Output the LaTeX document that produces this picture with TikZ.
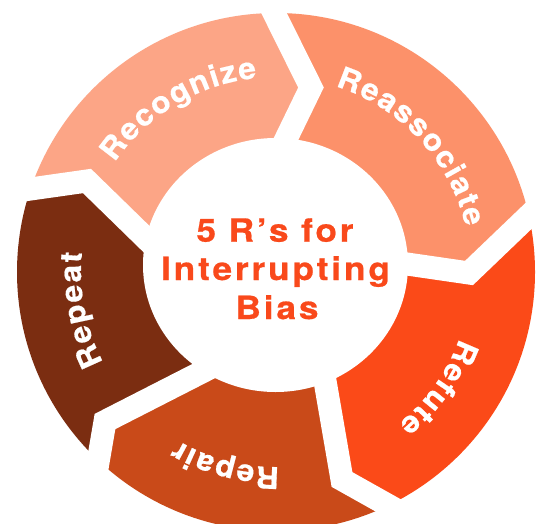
\documentclass[tikz,border=0pt]{standalone}
\usepackage{fontspec}
\setmainfont{Liberation Sans}
\newfontfamily\ctrfont{texgyreheros-bold}[Extension=.otf, LetterSpace=9, FakeStretch=1.1, FakeBold=0.6]
\newfontfamily\lbfam{texgyreheros-bold}[Extension=.otf, FakeStretch=1.06, FakeBold=0.6]
\usetikzlibrary{calc}
\definecolor{cRecog}{HTML}{FCA586}
\definecolor{cReass}{HTML}{FC916A}
\definecolor{cRefut}{HTML}{FB4A18}
\definecolor{cRepai}{HTML}{C94A19}
\definecolor{cRepea}{HTML}{7B2D11}
\definecolor{ctrtext}{HTML}{F9491B}
\newcommand{\lbfont}{\lbfam\fontsize{30}{30}\selectfont}
\def\lbsize{30}
\def\lbstretch{1.06}
\def\lbrad{195}
\def\lbtrack{1.5}
\newcommand{\arclabel}[3]{%
  \xdef\totwid{0}%
  \foreach \chr/\cw in {#3}{%
    \pgfmathsetmacro{\tmpw}{\totwid+\cw*\lbsize*\lbstretch+\lbtrack}%
    \xdef\totwid{\tmpw}%
  }%
  \pgfmathsetmacro{\startang}{#2 + ((\totwid-\lbtrack)/2)/\lbrad*180/pi}%
  \xdef\curang{\startang}%
  \foreach \chr/\cw [count=\ci] in {#3}{%
    \pgfmathsetmacro{\charang}{\curang - (\cw*\lbsize*\lbstretch/2)/\lbrad*180/pi}%
    \node[lbl, rotate=\charang-90] (#1\ci) at ($(C)+(\charang:\lbrad)$) {\chr};
    \pgfmathsetmacro{\nextang}{\curang - (\cw*\lbsize*\lbstretch+\lbtrack)/\lbrad*180/pi}%
    \xdef\curang{\nextang}%
  }%
}
\begin{document}
\begin{tikzpicture}[x=1pt,y=1pt,
  gapline/.style={draw=white, line width=23pt, line join=miter, line cap=butt},
  lbl/.style={font=\lbfont, text=white, inner sep=0pt, outer sep=0pt, anchor=base},
  ctext/.style={font=\ctrfont\fontsize{32}{32}\selectfont, text=ctrtext, inner sep=0pt, anchor=base}]
\useasboundingbox (0,0) rectangle (537,523);
\fill[white] (0,0) rectangle (537,523);
\coordinate (C) at (276,251);
\coordinate (OA) at (30.5,334);  \coordinate (TA) at (87,342);    \coordinate (IA) at (148,282.5);
\coordinate (OB) at (274,510);   \coordinate (TB) at (311,435.5); \coordinate (IB) at (286,384);
\coordinate (OC) at (529,307.5); \coordinate (TC) at (469,250);   \coordinate (IC) at (407,259);
\coordinate (OD) at (387.5,18);  \coordinate (TD) at (342,43.5);  \coordinate (ID) at (327,130.5);
\coordinate (OE) at (98.5,63.5); \coordinate (TE) at (105,101.5); \coordinate (IE) at (195,147.5);
\begin{scope}
\clip (C) circle (259);
\fill[cRecog] (C) -- (IA) -- (TA) -- ($(TA)!4!(OA)$) -- ($(C)+(120:450)$) -- ($(TB)!4!(OB)$) -- (TB) -- (IB) -- cycle;
\fill[cReass] (C) -- (IB) -- (TB) -- ($(TB)!4!(OB)$) -- ($(C)+(43:450)$) -- ($(TC)!4!(OC)$) -- (TC) -- (IC) -- cycle;
\fill[cRefut] (C) -- (IC) -- (TC) -- ($(TC)!4!(OC)$) -- ($(C)+(-35:450)$) -- ($(TD)!4!(OD)$) -- (TD) -- (ID) -- cycle;
\fill[cRepai] (C) -- (ID) -- (TD) -- ($(TD)!4!(OD)$) -- ($(C)+(255:450)$) -- ($(TE)!4!(OE)$) -- (TE) -- (IE) -- cycle;
\fill[cRepea] (C) -- (IE) -- (TE) -- ($(TE)!4!(OE)$) -- ($(C)+(192:450)$) -- ($(TA)!4!(OA)$) -- (TA) -- (IA) -- cycle;
\end{scope}
\draw[gapline] ($(TA)!3!(OA)$) -- (TA) -- ($(TA)!1.8!(IA)$);
\draw[gapline] ($(TB)!3!(OB)$) -- (TB) -- ($(TB)!1.8!(IB)$);
\draw[gapline] ($(TC)!3!(OC)$) -- (TC) -- ($(TC)!1.8!(IC)$);
\draw[gapline] ($(TD)!3!(OD)$) -- (TD) -- ($(TD)!1.8!(ID)$);
\draw[gapline] ($(TE)!3!(OE)$) -- (TE) -- ($(TE)!1.8!(IE)$);
\fill[white] (275.5,258) ellipse (132.5 and 127);
\arclabel{rec}{120.7}{R/.722,e/.556,c/.556,o/.611,g/.611,n/.611,i/.278,z/.5,e/.556}
\arclabel{rea}{42.8}{R/.722,e/.556,a/.556,s/.556,s/.556,o/.611,c/.556,i/.278,a/.556,t/.333,e/.556}
\arclabel{ref}{-35.5}{R/.722,e/.556,f/.333,u/.611,t/.333,e/.556}
\arclabel{rpr}{255.4}{R/.722,e/.556,p/.611,a/.556,i/.278,r/.389}
\arclabel{rpt}{191}{R/.722,e/.556,p/.611,e/.556,a/.556,t/.333}
\node[ctext] (t1) at (275,281.3) {5 R’s for};
\node[ctext] (t2) at (275.5,243) {Interrupting};
\node[ctext] (t3) at (277,204) {Bias};
\end{tikzpicture}
\end{document}
